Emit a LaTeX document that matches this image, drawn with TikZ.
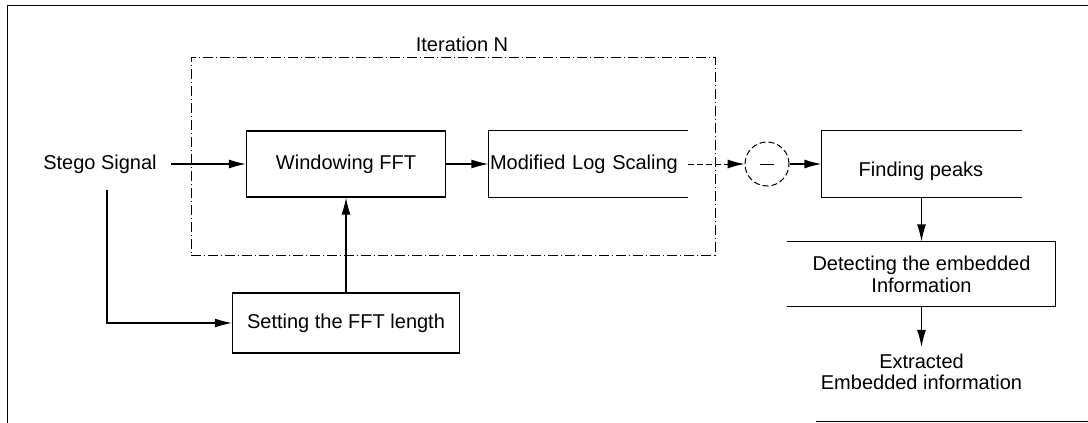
\documentclass[tikz,border=0pt]{standalone}
\usepackage{fontspec}
\setmainfont{Liberation Sans}
\usetikzlibrary{arrows.meta}
\begin{document}
\begin{tikzpicture}[x=0.5pt,y=-0.5pt,
  font=\fontsize{10}{11}\selectfont,
  line width=0.6pt,
  box/.style={draw, rectangle, inner sep=0pt},
  openbox/.style={rectangle, inner sep=0pt},
  plain/.style={inner sep=0pt},
  arr/.style={-{Latex[length=8.5pt,width=4.5pt]}},
  dashdot/.style={dash pattern=on 5pt off 1.5pt on 0.5pt off 1.5pt, line width=0.5pt},
]
\useasboundingbox (0,0) rectangle (1088,423);
% outer frame
\draw[line width=0.5pt] (1088,5) -- (7,5) -- (7,423);
\draw[line width=0.5pt] (816,421) -- (1088,421);

% iteration box
\node[plain] (iter) at (462,44) {Iteration N};
\node[draw, dashdot, rectangle, minimum width=262pt, minimum height=99pt, inner sep=0pt] (itbox) at (453,156) {};

% nodes
\node[plain] (stego) at (100,164) {Stego Signal};
\node[box, minimum width=99.5pt, minimum height=33pt] (win) at (346,164) {Windowing FFT};
\node[openbox, minimum width=99pt, minimum height=33pt, text width=98pt, align=left, inner xsep=0.5pt] (mod) at (588,164) {Modified Log Scaling};
\draw (mod.north east) -- (mod.north west) -- (mod.south west) -- (mod.south east);
\node[draw, dashed, dash pattern=on 3pt off 1.5pt, circle, minimum size=22pt, inner sep=0pt, line width=0.5pt] (circ) at (767,164) {};
\draw[line width=0.5pt] ([xshift=-3.5pt]circ.center) -- ([xshift=3.5pt]circ.center);
\node[openbox, minimum width=99.5pt, minimum height=33pt] (fp) at (921.5,164) {};
\node[plain] (fptext) at (921,171) {Finding peaks};
\draw (fp.north east) -- (fp.north west) -- (fp.south west) -- (fp.south east);
\node[openbox, minimum width=133.5pt, minimum height=32pt, align=center] (det) at (921.5,274) {Detecting the embedded\\Information};
\draw (det.north west) -- (det.north east) -- (det.south east) -- (det.south west);
\node[align=center, font=\fontsize{10}{10.5}\selectfont] (ext) at (921.5,372) {Extracted\\Embedded information};
\node[box, minimum width=113.5pt, minimum height=30pt] (set) at (346,323) {Setting the FFT length};

% connectors
\draw[arr] ([xshift=7pt]stego.east) -- (win.west);
\draw[arr] ([xshift=3.5pt]stego.south) ++(0,-8pt) |- (set.west);
\draw[arr] (set.north) -- (win.south);
\draw[arr] (win.east) -- (mod.west);
\draw[arr, dashed, dash pattern=on 3pt off 1.5pt, line width=0.5pt] (mod.east) -- (circ.west);
\draw[arr] (circ.east) -- (fp.west);
\draw[arr] (fp.south) -- (det.north);
\draw[arr] (det.south) -- (ext.north);
\end{tikzpicture}
\end{document}
